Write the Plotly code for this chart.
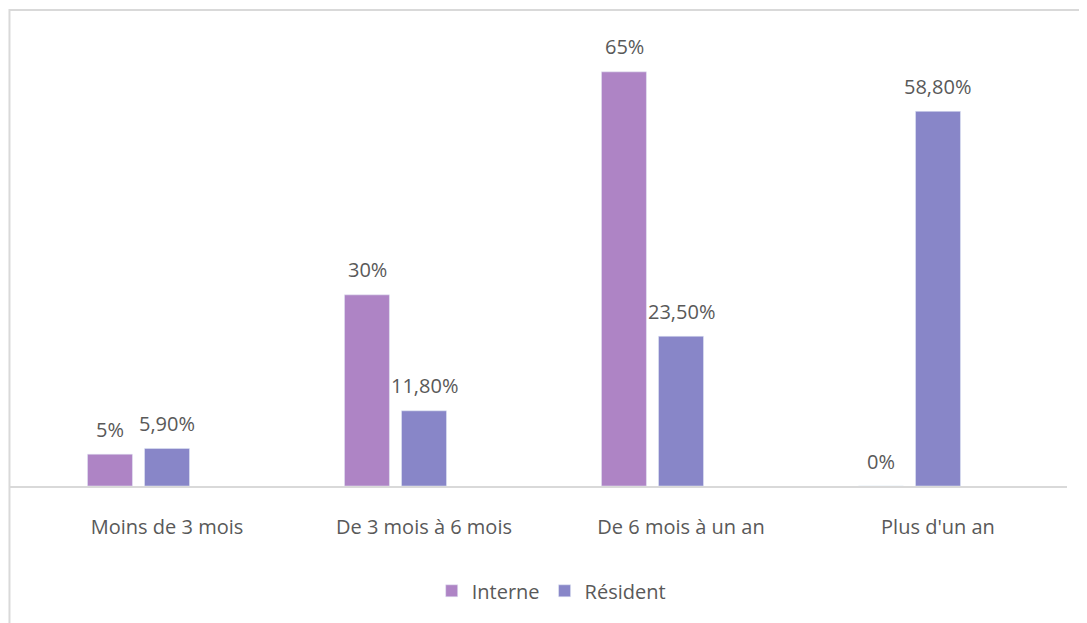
import plotly.graph_objects as go

categories = ["Moins de 3 mois", "De 3 mois à 6 mois", "De 6 mois à un an", "Plus d'un an"]
interne = [5, 30, 65, 0]
resident = [5.9, 11.8, 23.5, 58.8]
interne_labels = ["5%", "30%", "65%", "0%"]
resident_labels = ["5,90%", "11,80%", "23,50%", "58,80%"]

c_int = "#AE84C5"
c_res = "#8886C8"
txt = "#595959"
FONT = "Open Sans"
FS = 20

BW = 0.175     # bar width (category units)
STEP = 0.222   # distance between bar centres in a group

fig = go.Figure()
fig.add_trace(go.Bar(name="Interne", x=categories, y=interne, marker_color=c_int,
                     width=BW, offset=-STEP - BW / 2))
fig.add_trace(go.Bar(name="Résident", x=categories, y=resident, marker_color=c_res,
                     width=BW, offset=-BW / 2))

annotations = []
for cat, v, lab in zip(categories, interne, interne_labels):
    annotations.append(dict(x=cat, y=v, text=lab, xref="x", yref="y", showarrow=False,
                            xshift=-57, yshift=25, yanchor="middle",
                            font=dict(family=FONT, size=FS, color=txt)))
for cat, v, lab in zip(categories, resident, resident_labels):
    annotations.append(dict(x=cat, y=v, text=lab, xref="x", yref="y", showarrow=False,
                            xshift=0, yshift=25, yanchor="middle",
                            font=dict(family=FONT, size=FS, color=txt)))

fig.update_layout(
    width=1087, height=623,
    margin=dict(l=2, r=28, t=32, b=145),
    paper_bgcolor="white", plot_bgcolor="white",
    barmode="overlay",
    font=dict(family=FONT, size=FS, color=txt),
    showlegend=True,
    legend=dict(orientation="h", x=0.512, xanchor="center", y=-0.235, yanchor="middle",
                font=dict(family=FONT, size=FS, color=txt), itemwidth=30,
                traceorder="normal"),
    annotations=annotations,
    shapes=[dict(type="rect", xref="paper", yref="paper",
                 x0=-0.0005, x1=1.2, y0=-0.6, y1=1.067,
                 line=dict(color="#D9D9D9", width=2), fillcolor="rgba(0,0,0,0)", layer="below")],
)
fig.update_xaxes(range=[-0.611, 3.502], showline=True, linecolor="#D9D9D9", linewidth=1.5,
                 showgrid=False, ticks="", ticklabelstandoff=22,
                 tickfont=dict(family=FONT, size=FS, color=txt))
fig.update_yaxes(range=[0, 70], showgrid=False, showticklabels=False, zeroline=False, showline=False)

fig.write_html("out.html")
